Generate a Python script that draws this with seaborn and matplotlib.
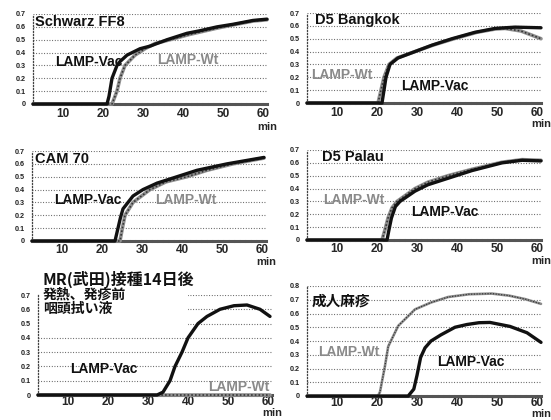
import matplotlib
matplotlib.use("Agg")
import matplotlib.pyplot as plt
from matplotlib.patches import Rectangle
import seaborn as sns

sns.set_theme(style="white")
plt.rcParams["font.family"] = ["Liberation Sans", "Noto Sans CJK JP", "DejaVu Sans"]

# ---- amplification curves (time in min, turbidity) ----
# Schwarz FF8
ff8_vac_t = [2.5, 21.0, 21.5, 22.25, 23.5, 24.25, 26.0, 29.25, 31.75, 36.0, 41.0, 44.25, 48.5, 52.5, 57.5, 61.0]
ff8_vac_y = [0, 0, 0.06, 0.20, 0.30, 0.33, 0.38, 0.43, 0.45, 0.50, 0.55, 0.57, 0.60, 0.62, 0.65, 0.66]
ff8_wt_t = [2.5, 22.25, 23.5, 24.25, 25.5, 28.0, 30.5, 33.0, 36.75, 41.5, 48.5, 52.5, 57.5, 61.0]
ff8_wt_y = [0, 0, 0.10, 0.20, 0.30, 0.38, 0.43, 0.47, 0.50, 0.54, 0.59, 0.615, 0.645, 0.655]

# D5 Bangkok
bkk_vac_t = [2.5, 21.25, 21.75, 22.25, 23.25, 25.25, 29.5, 33.75, 38.75, 44.5, 49.5, 54.5, 61.0]
bkk_vac_y = [0, 0, 0.10, 0.20, 0.30, 0.35, 0.40, 0.45, 0.50, 0.55, 0.58, 0.59, 0.585]
bkk_wt_t = [2.5, 20.25, 21.0, 21.75, 23.0, 25.0, 29.5, 34.0, 39.25, 45.0, 49.5, 52.0, 56.0, 61.0]
bkk_wt_y = [0, 0, 0.10, 0.20, 0.30, 0.35, 0.40, 0.45, 0.50, 0.55, 0.575, 0.58, 0.56, 0.50]

# CAM 70
cam_vac_t = [2.5, 23.25, 24.0, 24.6, 25.25, 26.5, 27.75, 30.25, 33.75, 38.75, 43.75, 51.25, 60.5]
cam_vac_y = [0, 0, 0.10, 0.18, 0.25, 0.30, 0.35, 0.40, 0.45, 0.50, 0.55, 0.60, 0.65]
cam_wt_t = [2.5, 24.5, 25.1, 25.75, 27.75, 32.0, 36.0, 41.25, 46.25, 52.75, 60.5]
cam_wt_y = [0, 0, 0.10, 0.20, 0.30, 0.40, 0.46, 0.50, 0.55, 0.60, 0.645]

# D5 Palau
pal_vac_t = [2.5, 22.5, 23.0, 23.6, 24.6, 25.75, 29.5, 32.75, 37.75, 43.75, 51.25, 56.25, 61.0]
pal_vac_y = [0, 0, 0.08, 0.17, 0.26, 0.30, 0.38, 0.43, 0.48, 0.54, 0.60, 0.62, 0.615]
pal_wt_t = [2.5, 21.25, 22.0, 22.75, 23.75, 25.0, 29.5, 32.75, 37.75, 43.75, 51.25, 56.25, 61.0]
pal_wt_y = [0, 0, 0.08, 0.17, 0.25, 0.30, 0.40, 0.45, 0.50, 0.55, 0.605, 0.625, 0.62]

# MR vaccinee, throat swab
mr_vac_t = [2.5, 32.25, 33.75, 35.5, 36.75, 38.5, 40.0, 42.5, 44.75, 48.0, 51.5, 54.75, 58.0, 60.5]
mr_vac_y = [0, 0, 0.02, 0.10, 0.20, 0.30, 0.40, 0.50, 0.55, 0.60, 0.625, 0.63, 0.60, 0.55]
mr_wt_t = [2.5, 60.5]
mr_wt_y = [0, 0]

# adult measles
adult_vac_t = [2.5, 27.8, 29.2, 30.0, 30.9, 32.0, 33.5, 36.0, 39.5, 42.5, 45.5, 48.25, 53.25, 57.5, 61.0]
adult_vac_y = [0, 0, 0.05, 0.15, 0.28, 0.35, 0.40, 0.445, 0.50, 0.52, 0.533, 0.535, 0.506, 0.46, 0.39]
adult_wt_t = [2.5, 20.25, 20.75, 22.0, 22.8, 25.3, 29.5, 33.5, 37.8, 43.0, 48.7, 53.0, 57.0, 61.0]
adult_wt_y = [0, 0, 0.03, 0.22, 0.36, 0.51, 0.63, 0.68, 0.72, 0.74, 0.745, 0.73, 0.705, 0.67]

titles = ["Schwarz FF8", "D5 Bangkok", "CAM 70", "D5 Palau", "", "成人麻疹"]
mr_note_head = "MR(武田)接種14日後"
mr_note_body = "発熱、発疹前\n咽頭拭い液"
x_ticks = [10, 20, 30, 40, 50, 60]
y_ticks_07 = [0, 0.1, 0.2, 0.3, 0.4, 0.5, 0.6, 0.7]
y_labels_07 = ["0", "0.1", "0.2", "0.3", "0.4", "0.5", "0.6", "0.7"]
y_ticks_08 = [0, 0.1, 0.2, 0.3, 0.4, 0.5, 0.6, 0.7, 0.8]
y_labels_08 = ["0", "0.1", "0.2", "0.3", "0.4", "0.5", "0.6", "0.7", "0.8"]

VAC = "#111111"
WT_BASE = "#8f8f8f"
WT_DOT = "#333333"
WT_TEXT = "#8a8a8a"

W, H = 551, 420
fig = plt.figure(figsize=(W / 100, H / 100), dpi=100)
fig.patch.set_facecolor("white")


def px_axes(left, right, top, bottom):
    return fig.add_axes([left / W, 1 - bottom / H, (right - left) / W, (bottom - top) / H])


panels = [
    dict(rect=(33, 267, 14, 104), vac=(ff8_vac_t, ff8_vac_y), wt=(ff8_wt_t, ff8_wt_y),
         title=titles[0], title_xy=(3.0, 0.64),
         vac_xy=(8.0, 0.33), wt_xy=(33.5, 0.34), ymax=0.7, wt_lw=2.6,
         xpad=3, min_base=-19),
    dict(rect=(307, 541, 13, 103), vac=(bkk_vac_t, bkk_vac_y), wt=(bkk_wt_t, bkk_wt_y),
         title=titles[1], title_xy=(4.5, 0.645),
         vac_xy=(26.0, 0.13), wt_xy=(3.5, 0.22), ymax=0.7, wt_lw=2.6,
         xpad=3, min_base=-17),
    dict(rect=(32, 266, 151, 241), vac=(cam_vac_t, cam_vac_y), wt=(cam_wt_t, cam_wt_y),
         title=titles[2], title_xy=(3.25, 0.64),
         vac_xy=(8.0, 0.32), wt_xy=(33.25, 0.32), ymax=0.7, wt_lw=2.6,
         xpad=2.5, min_base=-17),
    dict(rect=(307, 541, 150, 240), vac=(pal_vac_t, pal_vac_y), wt=(pal_wt_t, pal_wt_y),
         title=titles[3], title_xy=(6.25, 0.645),
         vac_xy=(28.5, 0.22), wt_xy=(6.5, 0.31), ymax=0.7, wt_lw=2.6,
         xpad=2.5, min_base=-17),
    dict(rect=(38, 272, 295, 395), vac=(mr_vac_t, mr_vac_y), wt=(mr_wt_t, mr_wt_y),
         title=titles[4], title_xy=None,
         vac_xy=(10.5, 0.18), wt_xy=(45.0, 0.056), ymax=0.7, wt_lw=2.6,
         xpad=1, min_base=-15),
    dict(rect=(307, 541, 286, 396), vac=(adult_vac_t, adult_vac_y), wt=(adult_wt_t, adult_wt_y),
         title=titles[5], title_xy=(3.75, 0.69),
         vac_xy=(35.0, 0.25), wt_xy=(5.25, 0.32), ymax=0.8, wt_lw=1.9,
         xpad=1, min_base=-15),
]

label_font = dict(fontsize=10, fontweight="bold")

for i, p in enumerate(panels):
    ax = px_axes(*p["rect"])
    ax.set_facecolor("white")
    ax.set_axisbelow(True)

    # wild-type curve: grey band with a dotted core
    wt_t, wt_y = p["wt"]
    sns.lineplot(x=wt_t, y=wt_y, ax=ax, color=WT_BASE, linewidth=p["wt_lw"],
                 estimator=None, sort=False, zorder=3, clip_on=False)
    sns.lineplot(x=wt_t, y=wt_y, ax=ax, color=WT_DOT, linewidth=p["wt_lw"] * 0.45,
                 linestyle=(0, (1, 1.3)), estimator=None, sort=False, zorder=3.1, clip_on=False)
    # vaccine-strain curve: solid black
    vac_t, vac_y = p["vac"]
    sns.lineplot(x=vac_t, y=vac_y, ax=ax, color=VAC, linewidth=2.4,
                 estimator=None, sort=False, zorder=4, clip_on=False,
                 solid_joinstyle="round", solid_capstyle="round")

    ax.set_xlim(2.5, 61)
    ax.set_ylim(0, p["ymax"])
    if p["ymax"] > 0.75:
        ax.set_yticks(y_ticks_08, y_labels_08)
    else:
        ax.set_yticks(y_ticks_07, y_labels_07)
    ax.set_xticks(x_ticks, [str(v) for v in x_ticks])
    ax.tick_params(axis="both", length=0)
    ax.tick_params(axis="y", pad=5, labelsize=5.2, labelcolor="#222222")
    ax.tick_params(axis="x", pad=p["xpad"], labelsize=8.5)
    for lab in ax.get_xticklabels():
        lab.set_fontweight("bold")
    for lab in ax.get_yticklabels():
        lab.set_fontweight("bold")
    ax.set_xlabel("")
    ax.set_ylabel("")

    ax.grid(axis="y", color="#555555", linewidth=0.8, linestyle=(0, (0.8, 1.6)))
    ax.grid(axis="x", visible=False)
    for side in ("top", "right"):
        ax.spines[side].set_visible(False)
    ax.spines["left"].set_linestyle((0, (0.8, 1.6)))
    ax.spines["left"].set_color("#444444")
    ax.spines["left"].set_linewidth(0.9)
    ax.spines["bottom"].set_color("#555555")
    ax.spines["bottom"].set_linewidth(2.2)
    ax.spines["bottom"].set_linestyle((0, (1, 0.8)))

    # unit label sitting under the last tick
    ax.annotate("min", xy=(61.0, 0), xycoords="data", xytext=(0, p["min_base"]),
                textcoords="offset points", ha="center", va="baseline",
                fontsize=8, fontweight="bold")

    if p["title_xy"] is not None:
        ax.text(*p["title_xy"], p["title"], ha="left", va="center",
                fontsize=10.5, fontweight="bold", color="#111111", zorder=5)
    ax.text(*p["vac_xy"], "LAMP-Vac", ha="left", va="center",
            color="#111111", zorder=5, **label_font)
    ax.text(*p["wt_xy"], "LAMP-Wt", ha="left", va="center",
            color=WT_TEXT, zorder=5, **label_font)

    if i == 4:
        ax.add_patch(Rectangle((2.6, 0.45), 37.4, 0.5, facecolor="white",
                               edgecolor="none", zorder=1, clip_on=False))
        cjk = ["Noto Sans CJK JP", "DejaVu Sans"]
        ax.text(3.75, 0.81, mr_note_head, ha="left", va="center", fontsize=11.5,
                fontweight="bold", family=cjk, color="#111111", zorder=5)
        ax.text(3.75, 0.75, mr_note_body, ha="left", va="top", fontsize=10,
                fontweight="bold", family=cjk, linespacing=1.05,
                color="#111111", zorder=5)

fig.savefig("out.png", dpi=100, facecolor="white")
